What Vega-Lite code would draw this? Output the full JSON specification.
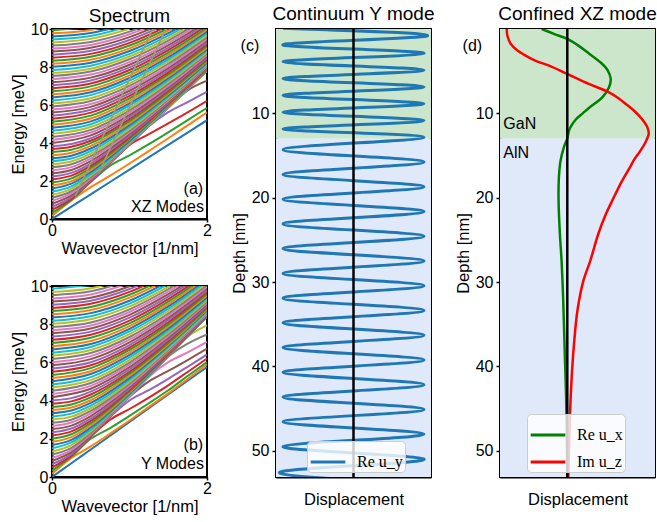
{
"$schema":"https://vega.github.io/schema/vega-lite/v6.json",
"background":"white",
"padding":{"left":9,"top":4,"right":5,"bottom":5},
"config":{
"font":"Liberation Sans",
"view":{"stroke":"black","strokeWidth":2},
"axis":{"grid":false,"domainColor":"black","domainWidth":2,"tickColor":"black","tickWidth":1.5,"labelFontSize":16,"labelColor":"black","labelFont":"Liberation Sans","titleFont":"Liberation Sans","titleFontSize":16.5,"titleFontWeight":"normal","titleColor":"black","zindex":1,"labelFlush":false,"labelOverlap":false},
"title":{"fontSize":19,"fontWeight":"normal","color":"black","offset":3.5,"font":"Liberation Sans"},
"legend":{"symbolType":"stroke","labelFont":"Liberation Serif","labelFontSize":16,"labelColor":"black","fillColor":"rgba(255,255,255,0.8)","strokeColor":"#cccccc","cornerRadius":4,"padding":2,"symbolSize":1200,"symbolStrokeWidth":3,"labelOffset":10,"rowPadding":0}
},
"datasets":{
"xz":[
{"i":0,"k":0,"e":0},{"i":0,"k":0.25,"e":0.65},{"i":0,"k":0.5,"e":1.3},{"i":0,"k":1,"e":2.6},{"i":0,"k":1.5,"e":3.9},{"i":0,"k":2,"e":5.2},
{"i":1,"k":0,"e":0.16},{"i":1,"k":0.25,"e":0.98},{"i":1,"k":0.5,"e":1.68},{"i":1,"k":0.75,"e":2.28},{"i":1,"k":1,"e":2.92},{"i":1,"k":1.25,"e":3.58},{"i":1,"k":1.5,"e":4.25},{"i":1,"k":1.75,"e":4.93},{"i":1,"k":2,"e":5.61},
{"i":2,"k":0,"e":0.32},{"i":2,"k":0.25,"e":1.0},{"i":2,"k":0.5,"e":1.95},{"i":2,"k":0.75,"e":2.81},{"i":2,"k":1,"e":3.35},{"i":2,"k":1.25,"e":3.94},{"i":2,"k":1.5,"e":4.56},{"i":2,"k":1.75,"e":5.2},{"i":2,"k":2,"e":5.85},
{"i":3,"k":0,"e":0.48},{"i":3,"k":0.25,"e":1.06},{"i":3,"k":0.5,"e":1.98},{"i":3,"k":0.75,"e":2.93},{"i":3,"k":1,"e":3.9},{"i":3,"k":1.25,"e":4.47},{"i":3,"k":1.5,"e":5.03},{"i":3,"k":1.75,"e":5.61},{"i":3,"k":2,"e":6.22},
{"i":4,"k":0,"e":0.64},{"i":4,"k":0.25,"e":1.14},{"i":4,"k":0.5,"e":2.01},{"i":4,"k":0.75,"e":2.95},{"i":4,"k":1,"e":3.91},{"i":4,"k":1.25,"e":4.88},{"i":4,"k":1.5,"e":5.62},{"i":4,"k":1.75,"e":6.15},{"i":4,"k":2,"e":6.7},
{"i":5,"k":0,"e":0.8},{"i":5,"k":0.25,"e":1.24},{"i":5,"k":0.5,"e":2.06},{"i":5,"k":0.75,"e":2.98},{"i":5,"k":1,"e":3.92},{"i":5,"k":1.25,"e":4.89},{"i":5,"k":1.5,"e":5.85},{"i":5,"k":1.75,"e":6.77},{"i":5,"k":2,"e":7.28},
{"i":6,"k":0,"e":0.96},{"i":6,"k":0.25,"e":1.35},{"i":6,"k":0.5,"e":2.12},{"i":6,"k":1,"e":3.95},{"i":6,"k":1.5,"e":5.86},{"i":6,"k":2,"e":7.8},
{"i":7,"k":0,"e":1.12},{"i":7,"k":0.25,"e":1.46},{"i":7,"k":0.5,"e":2.19},{"i":7,"k":1,"e":3.98},{"i":7,"k":1.5,"e":5.87},{"i":7,"k":2,"e":7.8},
{"i":8,"k":0,"e":1.28},{"i":8,"k":0.25,"e":1.59},{"i":8,"k":0.5,"e":2.28},{"i":8,"k":1,"e":4.02},{"i":8,"k":1.5,"e":5.89},{"i":8,"k":2,"e":7.81},
{"i":9,"k":0,"e":1.44},{"i":9,"k":0.25,"e":1.72},{"i":9,"k":0.5,"e":2.37},{"i":9,"k":1,"e":4.06},{"i":9,"k":1.5,"e":5.92},{"i":9,"k":2,"e":7.83},
{"i":10,"k":0,"e":1.6},{"i":10,"k":0.25,"e":1.86},{"i":10,"k":0.5,"e":2.47},{"i":10,"k":1,"e":4.11},{"i":10,"k":1.5,"e":5.95},{"i":10,"k":2,"e":7.84},
{"i":11,"k":0,"e":1.76},{"i":11,"k":0.25,"e":1.99},{"i":11,"k":0.5,"e":2.58},{"i":11,"k":1,"e":4.2},{"i":11,"k":1.5,"e":5.98},{"i":11,"k":2,"e":7.86},
{"i":12,"k":0,"e":1.92},{"i":12,"k":0.25,"e":2.14},{"i":12,"k":0.5,"e":2.69},{"i":12,"k":1,"e":4.24},{"i":12,"k":1.5,"e":6.02},{"i":12,"k":2,"e":7.89},
{"i":13,"k":0,"e":2.08},{"i":13,"k":0.25,"e":2.28},{"i":13,"k":0.5,"e":2.8},{"i":13,"k":1,"e":4.31},{"i":13,"k":1.5,"e":6.07},{"i":13,"k":2,"e":7.92},
{"i":14,"k":0,"e":2.24},{"i":14,"k":0.25,"e":2.43},{"i":14,"k":0.5,"e":2.92},{"i":14,"k":1,"e":4.39},{"i":14,"k":1.5,"e":6.12},{"i":14,"k":2,"e":7.95},
{"i":15,"k":0,"e":2.4},{"i":15,"k":0.25,"e":2.58},{"i":15,"k":0.5,"e":3.05},{"i":15,"k":1,"e":4.47},{"i":15,"k":1.5,"e":6.18},{"i":15,"k":2,"e":7.99},
{"i":16,"k":0,"e":2.56},{"i":16,"k":0.25,"e":2.73},{"i":16,"k":0.5,"e":3.18},{"i":16,"k":1,"e":4.56},{"i":16,"k":1.5,"e":6.23},{"i":16,"k":2,"e":8.03},
{"i":17,"k":0,"e":2.72},{"i":17,"k":0.25,"e":2.88},{"i":17,"k":0.5,"e":3.31},{"i":17,"k":1,"e":4.64},{"i":17,"k":1.5,"e":6.29},{"i":17,"k":2,"e":8.08},
{"i":18,"k":0,"e":2.88},{"i":18,"k":0.25,"e":3.03},{"i":18,"k":0.5,"e":3.44},{"i":18,"k":1,"e":4.74},{"i":18,"k":1.5,"e":6.36},{"i":18,"k":2,"e":8.13},
{"i":19,"k":0,"e":3.04},{"i":19,"k":0.25,"e":3.18},{"i":19,"k":0.5,"e":3.57},{"i":19,"k":1,"e":4.84},{"i":19,"k":1.5,"e":6.44},{"i":19,"k":2,"e":8.18},
{"i":20,"k":0,"e":3.2},{"i":20,"k":0.25,"e":3.33},{"i":20,"k":0.5,"e":3.71},{"i":20,"k":1,"e":4.94},{"i":20,"k":1.5,"e":6.51},{"i":20,"k":2,"e":8.23},
{"i":21,"k":0,"e":3.36},{"i":21,"k":0.25,"e":3.49},{"i":21,"k":0.5,"e":3.85},{"i":21,"k":1,"e":5.04},{"i":21,"k":1.5,"e":6.58},{"i":21,"k":2,"e":8.29},
{"i":22,"k":0,"e":3.52},{"i":22,"k":0.25,"e":3.64},{"i":22,"k":0.5,"e":3.99},{"i":22,"k":1,"e":5.15},{"i":22,"k":1.5,"e":6.66},{"i":22,"k":2,"e":8.35},
{"i":23,"k":0,"e":3.68},{"i":23,"k":0.25,"e":3.8},{"i":23,"k":0.5,"e":4.12},{"i":23,"k":1,"e":5.26},{"i":23,"k":1.5,"e":6.75},{"i":23,"k":2,"e":8.42},
{"i":24,"k":0,"e":3.84},{"i":24,"k":0.25,"e":3.95},{"i":24,"k":0.5,"e":4.25},{"i":24,"k":1,"e":5.37},{"i":24,"k":1.5,"e":6.84},{"i":24,"k":2,"e":8.48},
{"i":25,"k":0,"e":4.0},{"i":25,"k":0.5,"e":4.4},{"i":25,"k":1,"e":5.48},{"i":25,"k":1.5,"e":6.92},{"i":25,"k":2,"e":8.55},
{"i":26,"k":0,"e":4.16},{"i":26,"k":0.5,"e":4.55},{"i":26,"k":1,"e":5.6},{"i":26,"k":1.5,"e":7.01},{"i":26,"k":2,"e":8.63},
{"i":27,"k":0,"e":4.32},{"i":27,"k":0.5,"e":4.69},{"i":27,"k":1,"e":5.72},{"i":27,"k":1.5,"e":7.11},{"i":27,"k":2,"e":8.71},
{"i":28,"k":0,"e":4.48},{"i":28,"k":0.5,"e":4.84},{"i":28,"k":1,"e":5.84},{"i":28,"k":1.5,"e":7.21},{"i":28,"k":2,"e":8.78},
{"i":29,"k":0,"e":4.64},{"i":29,"k":0.5,"e":4.99},{"i":29,"k":1,"e":5.97},{"i":29,"k":1.5,"e":7.31},{"i":29,"k":2,"e":8.86},
{"i":30,"k":0,"e":4.8},{"i":30,"k":0.5,"e":5.14},{"i":30,"k":1,"e":6.09},{"i":30,"k":1.5,"e":7.41},{"i":30,"k":2,"e":8.94},
{"i":31,"k":0,"e":4.96},{"i":31,"k":0.5,"e":5.29},{"i":31,"k":1,"e":6.22},{"i":31,"k":1.5,"e":7.5},{"i":31,"k":2,"e":9.02},
{"i":32,"k":0,"e":5.12},{"i":32,"k":0.5,"e":5.44},{"i":32,"k":1,"e":6.35},{"i":32,"k":1.5,"e":7.61},{"i":32,"k":2,"e":9.11},
{"i":33,"k":0,"e":5.28},{"i":33,"k":0.5,"e":5.6},{"i":33,"k":1,"e":6.48},{"i":33,"k":1.5,"e":7.72},{"i":33,"k":2,"e":9.2},
{"i":34,"k":0,"e":5.44},{"i":34,"k":0.5,"e":5.75},{"i":34,"k":1,"e":6.61},{"i":34,"k":1.5,"e":7.83},{"i":34,"k":2,"e":9.29},
{"i":35,"k":0,"e":5.6},{"i":35,"k":0.5,"e":5.9},{"i":35,"k":1,"e":6.75},{"i":35,"k":1.5,"e":7.94},{"i":35,"k":2,"e":9.38},
{"i":36,"k":0,"e":5.76},{"i":36,"k":0.5,"e":6.05},{"i":36,"k":1,"e":6.88},{"i":36,"k":1.5,"e":8.05},{"i":36,"k":2,"e":9.47},
{"i":37,"k":0,"e":5.92},{"i":37,"k":0.5,"e":6.21},{"i":37,"k":1,"e":7.01},{"i":37,"k":1.5,"e":8.17},{"i":37,"k":2,"e":9.57},
{"i":38,"k":0,"e":6.08},{"i":38,"k":0.5,"e":6.36},{"i":38,"k":1,"e":7.14},{"i":38,"k":1.5,"e":8.29},{"i":38,"k":2,"e":9.67},
{"i":39,"k":0,"e":6.24},{"i":39,"k":0.5,"e":6.52},{"i":39,"k":1,"e":7.28},{"i":39,"k":1.5,"e":8.4},{"i":39,"k":2,"e":9.77},
{"i":40,"k":0,"e":6.4},{"i":40,"k":0.5,"e":6.67},{"i":40,"k":1,"e":7.42},{"i":40,"k":1.5,"e":8.52},{"i":40,"k":2,"e":9.87},
{"i":41,"k":0,"e":6.56},{"i":41,"k":0.5,"e":6.82},{"i":41,"k":1,"e":7.56},{"i":41,"k":1.5,"e":8.64},{"i":41,"k":2,"e":9.97},
{"i":42,"k":0,"e":6.72},{"i":42,"k":0.5,"e":6.98},{"i":42,"k":1,"e":7.7},{"i":42,"k":1.5,"e":8.76},{"i":42,"k":2,"e":10.07},
{"i":43,"k":0,"e":6.88},{"i":43,"k":0.5,"e":7.13},{"i":43,"k":1,"e":7.84},{"i":43,"k":1.5,"e":8.89},{"i":43,"k":2,"e":10.19},
{"i":44,"k":0,"e":7.04},{"i":44,"k":0.5,"e":7.29},{"i":44,"k":1,"e":7.98},{"i":44,"k":1.5,"e":9.01},{"i":44,"k":2,"e":10.29},
{"i":45,"k":0,"e":7.2},{"i":45,"k":0.5,"e":7.44},{"i":45,"k":1,"e":8.12},{"i":45,"k":1.5,"e":9.14},{"i":45,"k":2,"e":10.4},
{"i":46,"k":0,"e":7.36},{"i":46,"k":0.5,"e":7.6},{"i":46,"k":1,"e":8.26},{"i":46,"k":1.5,"e":9.26},{"i":46,"k":2,"e":10.51},
{"i":47,"k":0,"e":7.52},{"i":47,"k":0.5,"e":7.76},{"i":47,"k":1,"e":8.41},{"i":47,"k":1.5,"e":9.39},{"i":47,"k":2,"e":10.62},
{"i":48,"k":0,"e":7.68},{"i":48,"k":0.5,"e":7.91},{"i":48,"k":1,"e":8.55},{"i":48,"k":1.5,"e":9.52},{"i":48,"k":2,"e":10.72},
{"i":49,"k":0,"e":7.84},{"i":49,"k":0.5,"e":8.07},{"i":49,"k":1,"e":8.69},{"i":49,"k":1.5,"e":9.65},{"i":49,"k":2,"e":10.83},
{"i":50,"k":0,"e":8.01},{"i":50,"k":0.5,"e":8.22},{"i":50,"k":1,"e":8.84},{"i":50,"k":1.5,"e":9.78},{"i":50,"k":2,"e":10.94},
{"i":51,"k":0,"e":8.17},{"i":51,"k":0.5,"e":8.38},{"i":51,"k":1,"e":8.98},{"i":51,"k":1.5,"e":9.91},{"i":51,"k":2,"e":11.04},
{"i":52,"k":0,"e":8.33},{"i":52,"k":0.5,"e":8.54},{"i":52,"k":1,"e":9.13},{"i":52,"k":1.5,"e":10.04},
{"i":53,"k":0,"e":8.49},{"i":53,"k":0.5,"e":8.69},{"i":53,"k":1,"e":9.27},{"i":53,"k":1.5,"e":10.17},
{"i":54,"k":0,"e":8.65},{"i":54,"k":0.5,"e":8.85},{"i":54,"k":1,"e":9.42},{"i":54,"k":1.5,"e":10.31},
{"i":55,"k":0,"e":8.81},{"i":55,"k":0.5,"e":9.01},{"i":55,"k":1,"e":9.57},{"i":55,"k":1.5,"e":10.44},
{"i":56,"k":0,"e":8.97},{"i":56,"k":0.5,"e":9.16},{"i":56,"k":1,"e":9.72},{"i":56,"k":1.5,"e":10.57},
{"i":57,"k":0,"e":9.13},{"i":57,"k":0.5,"e":9.32},{"i":57,"k":1,"e":9.86},{"i":57,"k":1.5,"e":10.71},
{"i":58,"k":0,"e":9.29},{"i":58,"k":0.5,"e":9.48},{"i":58,"k":1,"e":10.01},
{"i":59,"k":0,"e":9.45},{"i":59,"k":0.5,"e":9.63},{"i":59,"k":1,"e":10.16},
{"i":60,"k":0,"e":9.61},{"i":60,"k":0.5,"e":9.79},{"i":60,"k":1,"e":10.3},
{"i":61,"k":0,"e":9.77},{"i":61,"k":0.5,"e":9.95},{"i":61,"k":1,"e":10.45},
{"i":62,"k":0,"e":9.93},{"i":62,"k":0.5,"e":10.1}
],
"xzl":[
{"j":1,"k":0.3,"e":1.2},{"j":1,"k":1.31,"e":10.1},
{"j":2,"k":0.6,"e":2.4},{"j":2,"k":1.48,"e":10.1}
],
"ym":[
{"i":0,"k":0,"e":0},{"i":0,"k":0.25,"e":0.72},{"i":0,"k":0.5,"e":1.44},{"i":0,"k":1,"e":2.88},{"i":0,"k":1.5,"e":4.32},{"i":0,"k":2,"e":5.76},
{"i":1,"k":0,"e":0.17},{"i":1,"k":0.25,"e":1.0},{"i":1,"k":0.5,"e":1.6},{"i":1,"k":0.75,"e":2.27},{"i":1,"k":1,"e":2.96},{"i":1,"k":1.25,"e":3.67},{"i":1,"k":1.5,"e":4.38},{"i":1,"k":1.75,"e":5.13},{"i":1,"k":2,"e":5.9},
{"i":2,"k":0,"e":0.33},{"i":2,"k":0.25,"e":1.07},{"i":2,"k":0.5,"e":2.0},{"i":2,"k":0.75,"e":2.56},{"i":2,"k":1,"e":3.2},{"i":2,"k":1.25,"e":3.86},{"i":2,"k":1.5,"e":4.54},{"i":2,"k":1.75,"e":5.29},{"i":2,"k":2,"e":6.02},
{"i":3,"k":0,"e":0.5},{"i":3,"k":0.25,"e":1.12},{"i":3,"k":0.5,"e":2.11},{"i":3,"k":0.75,"e":3.0},{"i":3,"k":1,"e":3.56},{"i":3,"k":1.25,"e":4.16},{"i":3,"k":1.5,"e":4.8},{"i":3,"k":1.75,"e":5.5},{"i":3,"k":2,"e":6.2},
{"i":4,"k":0,"e":0.67},{"i":4,"k":0.25,"e":1.2},{"i":4,"k":0.5,"e":2.14},{"i":4,"k":0.75,"e":3.15},{"i":4,"k":1,"e":4.01},{"i":4,"k":1.25,"e":4.55},{"i":4,"k":1.5,"e":5.14},{"i":4,"k":1.75,"e":5.77},{"i":4,"k":2,"e":6.41},
{"i":5,"k":0,"e":0.84},{"i":5,"k":0.25,"e":1.3},{"i":5,"k":0.5,"e":2.18},{"i":5,"k":0.75,"e":3.17},{"i":5,"k":1,"e":4.2},{"i":5,"k":1.25,"e":5.01},{"i":5,"k":1.5,"e":5.55},{"i":5,"k":1.75,"e":6.12},{"i":5,"k":2,"e":6.72},
{"i":6,"k":0,"e":1.0},{"i":6,"k":0.25,"e":1.41},{"i":6,"k":0.5,"e":2.24},{"i":6,"k":0.75,"e":3.21},{"i":6,"k":1,"e":4.21},{"i":6,"k":1.25,"e":5.25},{"i":6,"k":1.5,"e":6.01},{"i":6,"k":1.75,"e":6.52},{"i":6,"k":2,"e":7.07},
{"i":7,"k":0,"e":1.17},{"i":7,"k":0.25,"e":1.53},{"i":7,"k":0.5,"e":2.31},{"i":7,"k":0.75,"e":3.25},{"i":7,"k":1,"e":4.24},{"i":7,"k":1.25,"e":5.26},{"i":7,"k":1.5,"e":6.3},{"i":7,"k":1.75,"e":6.98},{"i":7,"k":2,"e":7.47},
{"i":8,"k":0,"e":1.34},{"i":8,"k":0.25,"e":1.67},{"i":8,"k":0.5,"e":2.4},{"i":8,"k":0.75,"e":3.32},{"i":8,"k":1,"e":4.27},{"i":8,"k":1.25,"e":5.28},{"i":8,"k":1.5,"e":6.31},{"i":8,"k":1.75,"e":7.35},{"i":8,"k":2,"e":7.94},
{"i":9,"k":0,"e":1.5},{"i":9,"k":0.25,"e":1.81},{"i":9,"k":0.5,"e":2.49},{"i":9,"k":1,"e":4.31},{"i":9,"k":1.5,"e":6.32},{"i":9,"k":2,"e":8.4},
{"i":10,"k":0,"e":1.67},{"i":10,"k":0.25,"e":1.94},{"i":10,"k":0.5,"e":2.59},{"i":10,"k":1,"e":4.36},{"i":10,"k":1.5,"e":6.34},{"i":10,"k":2,"e":8.4},
{"i":11,"k":0,"e":1.84},{"i":11,"k":0.25,"e":2.09},{"i":11,"k":0.5,"e":2.7},{"i":11,"k":1,"e":4.42},{"i":11,"k":1.5,"e":6.37},{"i":11,"k":2,"e":8.41},
{"i":12,"k":0,"e":2.0},{"i":12,"k":0.25,"e":2.24},{"i":12,"k":0.5,"e":2.82},{"i":12,"k":1,"e":4.49},{"i":12,"k":1.5,"e":6.4},{"i":12,"k":2,"e":8.43},
{"i":13,"k":0,"e":2.17},{"i":13,"k":0.25,"e":2.39},{"i":13,"k":0.5,"e":2.94},{"i":13,"k":1,"e":4.55},{"i":13,"k":1.5,"e":6.45},{"i":13,"k":2,"e":8.45},
{"i":14,"k":0,"e":2.34},{"i":14,"k":0.25,"e":2.54},{"i":14,"k":0.5,"e":3.06},{"i":14,"k":1,"e":4.63},{"i":14,"k":1.5,"e":6.49},{"i":14,"k":2,"e":8.48},
{"i":15,"k":0,"e":2.51},{"i":15,"k":0.25,"e":2.69},{"i":15,"k":0.5,"e":3.19},{"i":15,"k":1,"e":4.71},{"i":15,"k":1.5,"e":6.54},{"i":15,"k":2,"e":8.5},
{"i":16,"k":0,"e":2.67},{"i":16,"k":0.25,"e":2.85},{"i":16,"k":0.5,"e":3.33},{"i":16,"k":1,"e":4.79},{"i":16,"k":1.5,"e":6.6},{"i":16,"k":2,"e":8.54},
{"i":17,"k":0,"e":2.84},{"i":17,"k":0.25,"e":3.0},{"i":17,"k":0.5,"e":3.46},{"i":17,"k":1,"e":4.89},{"i":17,"k":1.5,"e":6.66},{"i":17,"k":2,"e":8.58},
{"i":18,"k":0,"e":3.01},{"i":18,"k":0.25,"e":3.16},{"i":18,"k":0.5,"e":3.6},{"i":18,"k":1,"e":4.98},{"i":18,"k":1.5,"e":6.72},{"i":18,"k":2,"e":8.62},
{"i":19,"k":0,"e":3.17},{"i":19,"k":0.25,"e":3.32},{"i":19,"k":0.5,"e":3.74},{"i":19,"k":1,"e":5.08},{"i":19,"k":1.5,"e":6.79},{"i":19,"k":2,"e":8.67},
{"i":20,"k":0,"e":3.34},{"i":20,"k":0.25,"e":3.48},{"i":20,"k":0.5,"e":3.88},{"i":20,"k":1,"e":5.19},{"i":20,"k":1.5,"e":6.87},{"i":20,"k":2,"e":8.72},
{"i":21,"k":0,"e":3.51},{"i":21,"k":0.25,"e":3.64},{"i":21,"k":0.5,"e":4.02},{"i":21,"k":1,"e":5.3},{"i":21,"k":1.5,"e":6.94},{"i":21,"k":2,"e":8.78},
{"i":22,"k":0,"e":3.67},{"i":22,"k":0.25,"e":3.8},{"i":22,"k":0.5,"e":4.17},{"i":22,"k":1,"e":5.41},{"i":22,"k":1.5,"e":7.02},{"i":22,"k":2,"e":8.83},
{"i":23,"k":0,"e":3.84},{"i":23,"k":0.25,"e":3.96},{"i":23,"k":0.5,"e":4.32},{"i":23,"k":1,"e":5.51},{"i":23,"k":1.5,"e":7.11},{"i":23,"k":2,"e":8.9},
{"i":24,"k":0,"e":4.01},{"i":24,"k":0.25,"e":4.13},{"i":24,"k":0.5,"e":4.47},{"i":24,"k":1,"e":5.63},{"i":24,"k":1.5,"e":7.2},{"i":24,"k":2,"e":8.96},
{"i":25,"k":0,"e":4.18},{"i":25,"k":0.5,"e":4.62},{"i":25,"k":1,"e":5.75},{"i":25,"k":1.5,"e":7.29},{"i":25,"k":2,"e":9.03},
{"i":26,"k":0,"e":4.34},{"i":26,"k":0.5,"e":4.77},{"i":26,"k":1,"e":5.87},{"i":26,"k":1.5,"e":7.38},{"i":26,"k":2,"e":9.11},
{"i":27,"k":0,"e":4.51},{"i":27,"k":0.5,"e":4.92},{"i":27,"k":1,"e":5.99},{"i":27,"k":1.5,"e":7.47},{"i":27,"k":2,"e":9.18},
{"i":28,"k":0,"e":4.68},{"i":28,"k":0.5,"e":5.07},{"i":28,"k":1,"e":6.12},{"i":28,"k":1.5,"e":7.57},{"i":28,"k":2,"e":9.26},
{"i":29,"k":0,"e":4.84},{"i":29,"k":0.5,"e":5.23},{"i":29,"k":1,"e":6.26},{"i":29,"k":1.5,"e":7.67},{"i":29,"k":2,"e":9.34},
{"i":30,"k":0,"e":5.01},{"i":30,"k":0.5,"e":5.39},{"i":30,"k":1,"e":6.39},{"i":30,"k":1.5,"e":7.78},{"i":30,"k":2,"e":9.42},
{"i":31,"k":0,"e":5.18},{"i":31,"k":0.5,"e":5.54},{"i":31,"k":1,"e":6.52},{"i":31,"k":1.5,"e":7.88},{"i":31,"k":2,"e":9.5},
{"i":32,"k":0,"e":5.34},{"i":32,"k":0.5,"e":5.7},{"i":32,"k":1,"e":6.65},{"i":32,"k":1.5,"e":7.99},{"i":32,"k":2,"e":9.58},
{"i":33,"k":0,"e":5.51},{"i":33,"k":0.5,"e":5.85},{"i":33,"k":1,"e":6.78},{"i":33,"k":1.5,"e":8.1},{"i":33,"k":2,"e":9.68},
{"i":34,"k":0,"e":5.68},{"i":34,"k":0.5,"e":6.01},{"i":34,"k":1,"e":6.91},{"i":34,"k":1.5,"e":8.22},{"i":34,"k":2,"e":9.77},
{"i":35,"k":0,"e":5.85},{"i":35,"k":0.5,"e":6.17},{"i":35,"k":1,"e":7.05},{"i":35,"k":1.5,"e":8.33},{"i":35,"k":2,"e":9.87},
{"i":36,"k":0,"e":6.01},{"i":36,"k":0.5,"e":6.33},{"i":36,"k":1,"e":7.19},{"i":36,"k":1.5,"e":8.45},{"i":36,"k":2,"e":9.96},
{"i":37,"k":0,"e":6.18},{"i":37,"k":0.5,"e":6.49},{"i":37,"k":1,"e":7.33},{"i":37,"k":1.5,"e":8.56},{"i":37,"k":2,"e":10.05},
{"i":38,"k":0,"e":6.35},{"i":38,"k":0.5,"e":6.65},{"i":38,"k":1,"e":7.48},{"i":38,"k":1.5,"e":8.69},{"i":38,"k":2,"e":10.16},
{"i":39,"k":0,"e":6.51},{"i":39,"k":0.5,"e":6.81},{"i":39,"k":1,"e":7.62},{"i":39,"k":1.5,"e":8.81},{"i":39,"k":2,"e":10.26},
{"i":40,"k":0,"e":6.68},{"i":40,"k":0.5,"e":6.96},{"i":40,"k":1,"e":7.76},{"i":40,"k":1.5,"e":8.93},{"i":40,"k":2,"e":10.37},
{"i":41,"k":0,"e":6.85},{"i":41,"k":0.5,"e":7.12},{"i":41,"k":1,"e":7.9},{"i":41,"k":1.5,"e":9.05},{"i":41,"k":2,"e":10.47},
{"i":42,"k":0,"e":7.02},{"i":42,"k":0.5,"e":7.29},{"i":42,"k":1,"e":8.04},{"i":42,"k":1.5,"e":9.18},{"i":42,"k":2,"e":10.57},
{"i":43,"k":0,"e":7.18},{"i":43,"k":0.5,"e":7.45},{"i":43,"k":1,"e":8.19},{"i":43,"k":1.5,"e":9.31},{"i":43,"k":2,"e":10.67},
{"i":44,"k":0,"e":7.35},{"i":44,"k":0.5,"e":7.61},{"i":44,"k":1,"e":8.34},{"i":44,"k":1.5,"e":9.44},{"i":44,"k":2,"e":10.78},
{"i":45,"k":0,"e":7.52},{"i":45,"k":0.5,"e":7.77},{"i":45,"k":1,"e":8.49},{"i":45,"k":1.5,"e":9.57},{"i":45,"k":2,"e":10.88},
{"i":46,"k":0,"e":7.68},{"i":46,"k":0.5,"e":7.93},{"i":46,"k":1,"e":8.64},{"i":46,"k":1.5,"e":9.7},{"i":46,"k":2,"e":10.98},
{"i":47,"k":0,"e":7.85},{"i":47,"k":0.5,"e":8.09},{"i":47,"k":1,"e":8.78},{"i":47,"k":1.5,"e":9.83},{"i":47,"k":2,"e":11.08},
{"i":48,"k":0,"e":8.02},{"i":48,"k":0.5,"e":8.26},{"i":48,"k":1,"e":8.93},{"i":48,"k":1.5,"e":9.96},{"i":48,"k":2,"e":11.18},
{"i":49,"k":0,"e":8.18},{"i":49,"k":0.5,"e":8.42},{"i":49,"k":1,"e":9.08},{"i":49,"k":1.5,"e":10.1},
{"i":50,"k":0,"e":8.35},{"i":50,"k":0.5,"e":8.58},{"i":50,"k":1,"e":9.23},{"i":50,"k":1.5,"e":10.23},
{"i":51,"k":0,"e":8.52},{"i":51,"k":0.5,"e":8.74},{"i":51,"k":1,"e":9.39},{"i":51,"k":1.5,"e":10.37},
{"i":52,"k":0,"e":8.69},{"i":52,"k":0.5,"e":8.9},{"i":52,"k":1,"e":9.54},{"i":52,"k":1.5,"e":10.5},
{"i":53,"k":0,"e":8.85},{"i":53,"k":0.5,"e":9.07},{"i":53,"k":1,"e":9.69},{"i":53,"k":1.5,"e":10.64},
{"i":54,"k":0,"e":9.02},{"i":54,"k":0.5,"e":9.23},{"i":54,"k":1,"e":9.84},{"i":54,"k":1.5,"e":10.77},
{"i":55,"k":0,"e":9.19},{"i":55,"k":0.5,"e":9.39},{"i":55,"k":1,"e":9.99},{"i":55,"k":1.5,"e":10.91},
{"i":56,"k":0,"e":9.35},{"i":56,"k":0.5,"e":9.56},{"i":56,"k":1,"e":10.15},
{"i":57,"k":0,"e":9.52},{"i":57,"k":0.5,"e":9.72},{"i":57,"k":1,"e":10.3},
{"i":58,"k":0,"e":9.69},{"i":58,"k":0.5,"e":9.88},{"i":58,"k":1,"e":10.46},
{"i":59,"k":0,"e":9.85},{"i":59,"k":0.5,"e":10.05}
],
"uy":[
{"n":0,"d":-0.1,"u":-1},{"n":1,"d":0.9,"u":1},{"n":2,"d":1.9,"u":-1},{"n":3,"d":2.89,"u":1},{"n":4,"d":3.89,"u":-1},{"n":5,"d":4.88,"u":1},{"n":6,"d":5.88,"u":-1},{"n":7,"d":6.87,"u":1},{"n":8,"d":7.87,"u":-1},{"n":9,"d":8.86,"u":1},{"n":10,"d":9.86,"u":-1},{"n":11,"d":10.85,"u":1},{"n":12,"d":11.85,"u":-1},{"n":13,"d":12.84,"u":1},
{"n":14,"d":14.31,"u":-1},{"n":15,"d":15.77,"u":1},{"n":16,"d":17.24,"u":-1},{"n":17,"d":18.7,"u":1},{"n":18,"d":20.17,"u":-1},{"n":19,"d":21.64,"u":1},{"n":20,"d":23.1,"u":-1},{"n":21,"d":24.57,"u":1},{"n":22,"d":26.03,"u":-1},{"n":23,"d":27.5,"u":1},{"n":24,"d":28.97,"u":-1},{"n":25,"d":30.43,"u":1},{"n":26,"d":31.9,"u":-1},{"n":27,"d":33.36,"u":1},{"n":28,"d":34.83,"u":-1},{"n":29,"d":36.3,"u":1},{"n":30,"d":37.76,"u":-1},{"n":31,"d":39.23,"u":1},{"n":32,"d":40.69,"u":-1},{"n":33,"d":42.16,"u":1},{"n":34,"d":43.63,"u":-1},{"n":35,"d":45.09,"u":1},{"n":36,"d":46.56,"u":-1},{"n":37,"d":48.02,"u":1},{"n":38,"d":49.49,"u":-1},{"n":39,"d":50.96,"u":1},{"n":40,"d":52.42,"u":-1},{"n":41,"d":53.89,"u":1}
],
"uxz":[
{"s":"Re u_x","d":0,"u":-0.38},{"s":"Re u_x","d":0.6,"u":-0.19},{"s":"Re u_x","d":1.18,"u":0},{"s":"Re u_x","d":2.0,"u":0.17},{"s":"Re u_x","d":2.95,"u":0.33},{"s":"Re u_x","d":4.0,"u":0.5},{"s":"Re u_x","d":4.9,"u":0.6},{"s":"Re u_x","d":5.9,"u":0.645},{"s":"Re u_x","d":6.9,"u":0.62},{"s":"Re u_x","d":8.1,"u":0.52},{"s":"Re u_x","d":9.3,"u":0.33},{"s":"Re u_x","d":10.0,"u":0.23},{"s":"Re u_x","d":10.7,"u":0.13},{"s":"Re u_x","d":11.4,"u":0.065},{"s":"Re u_x","d":12.05,"u":0.025},{"s":"Re u_x","d":12.96,"u":0},{"s":"Re u_x","d":14.0,"u":-0.05},{"s":"Re u_x","d":15.6,"u":-0.1},{"s":"Re u_x","d":17.6,"u":-0.125},{"s":"Re u_x","d":20.3,"u":-0.13},{"s":"Re u_x","d":24.3,"u":-0.11},{"s":"Re u_x","d":27.5,"u":-0.085},{"s":"Re u_x","d":31.2,"u":-0.065},{"s":"Re u_x","d":35.0,"u":-0.05},{"s":"Re u_x","d":39.1,"u":-0.035},{"s":"Re u_x","d":43.0,"u":-0.02},{"s":"Re u_x","d":47.0,"u":-0.01},{"s":"Re u_x","d":53.1,"u":0},
{"s":"Im u_z","d":0,"u":-0.9},{"s":"Im u_z","d":0.8,"u":-0.89},{"s":"Im u_z","d":1.77,"u":-0.84},{"s":"Im u_z","d":2.5,"u":-0.75},{"s":"Im u_z","d":3.15,"u":-0.62},{"s":"Im u_z","d":3.8,"u":-0.46},{"s":"Im u_z","d":4.34,"u":-0.27},{"s":"Im u_z","d":5.33,"u":0},{"s":"Im u_z","d":6.51,"u":0.32},{"s":"Im u_z","d":7.5,"u":0.62},{"s":"Im u_z","d":8.2,"u":0.76},{"s":"Im u_z","d":8.88,"u":0.87},{"s":"Im u_z","d":9.6,"u":0.98},{"s":"Im u_z","d":10.27,"u":1.065},{"s":"Im u_z","d":11.0,"u":1.14},{"s":"Im u_z","d":11.66,"u":1.19},{"s":"Im u_z","d":12.44,"u":1.21},{"s":"Im u_z","d":13.0,"u":1.185},{"s":"Im u_z","d":13.6,"u":1.15},{"s":"Im u_z","d":14.5,"u":1.08},{"s":"Im u_z","d":15.4,"u":1.0},{"s":"Im u_z","d":16.4,"u":0.93},{"s":"Im u_z","d":18.2,"u":0.8},{"s":"Im u_z","d":20.3,"u":0.67},{"s":"Im u_z","d":22.0,"u":0.57},{"s":"Im u_z","d":24.3,"u":0.46},{"s":"Im u_z","d":27.5,"u":0.34},{"s":"Im u_z","d":29.8,"u":0.24},{"s":"Im u_z","d":33.4,"u":0.15},{"s":"Im u_z","d":37.3,"u":0.1},{"s":"Im u_z","d":41.3,"u":0.065},{"s":"Im u_z","d":45.6,"u":0.04},{"s":"Im u_z","d":50.0,"u":0.025},{"s":"Im u_z","d":53.1,"u":0.015}
]
},
"hconcat":[
{"vconcat":[
{"width":155,"height":190,"title":{"text":"Spectrum","offset":-5},
"layer":[
{"data":{"name":"xz"},"mark":{"type":"line","interpolate":"monotone","strokeWidth":2,"clip":true},
"encoding":{
"x":{"field":"k","type":"quantitative","scale":{"domain":[0,2],"nice":false},"axis":{"values":[0,1,2],"tickCount":10,"format":"d","title":"Wavevector [1/nm]","tickSize":3,"labelPadding":0,"titlePadding":2,"labelOverlap":false}},
"y":{"field":"e","type":"quantitative","scale":{"domain":[0,10],"nice":false},"axis":{"values":[0,2,4,6,8,10],"tickCount":10,"format":"d","title":"Energy [meV]","tickSize":3,"labelPadding":1,"titlePadding":4,"labelOverlap":false}},
"color":{"field":"i","type":"ordinal","scale":{"range":["#1f77b4","#ff7f0e","#2ca02c","#d62728","#9467bd","#8c564b","#e377c2","#7f7f7f","#bcbd22","#17becf"]},"legend":null},
"order":{"field":"k","type":"quantitative"}}},
{"data":{"name":"xzl"},"mark":{"type":"line","strokeWidth":1.5,"clip":true,"color":"#9d9d72"},
"encoding":{"x":{"field":"k","type":"quantitative"},"y":{"field":"e","type":"quantitative"},"detail":{"field":"j","type":"nominal"}}},
{"data":{"values":[{"t":"(a)"}]},"mark":{"type":"text","align":"right","baseline":"middle","fontSize":16,"color":"black"},
"encoding":{"x":{"datum":1.95},"y":{"datum":1.58},"text":{"field":"t"}}},
{"data":{"values":[{"t":"XZ Modes"}]},"mark":{"type":"text","align":"right","baseline":"middle","fontSize":16,"color":"black"},
"encoding":{"x":{"datum":1.96},"y":{"datum":0.61},"text":{"field":"t"}}}
]},
{"width":155,"height":191,
"layer":[
{"data":{"name":"ym"},"mark":{"type":"line","interpolate":"monotone","strokeWidth":2,"clip":true},
"encoding":{
"x":{"field":"k","type":"quantitative","scale":{"domain":[0,2],"nice":false},"axis":{"values":[0,1,2],"tickCount":10,"format":"d","title":"Wavevector [1/nm]","tickSize":3,"labelPadding":0,"titlePadding":2,"labelOverlap":false}},
"y":{"field":"e","type":"quantitative","scale":{"domain":[0,10],"nice":false},"axis":{"values":[0,2,4,6,8,10],"tickCount":10,"format":"d","title":"Energy [meV]","tickSize":3,"labelPadding":1,"titlePadding":4,"labelOverlap":false}},
"color":{"field":"i","type":"ordinal","scale":{"range":["#1f77b4","#ff7f0e","#2ca02c","#d62728","#9467bd","#8c564b","#e377c2","#7f7f7f","#bcbd22","#17becf"]},"legend":null},
"order":{"field":"k","type":"quantitative"}}},
{"data":{"values":[{"t":"(b)"}]},"mark":{"type":"text","align":"right","baseline":"middle","fontSize":16,"color":"black"},
"encoding":{"x":{"datum":1.95},"y":{"datum":1.66},"text":{"field":"t"}}},
{"data":{"values":[{"t":"Y Modes"}]},"mark":{"type":"text","align":"right","baseline":"middle","fontSize":16,"color":"black"},
"encoding":{"x":{"datum":1.96},"y":{"datum":0.66},"text":{"field":"t"}}}
]}
],"spacing":67,"bounds":"flush"},
{"hconcat":[
{"width":155,"height":448,"title":"Continuum Y mode",
"layer":[
{"data":{"values":[{"m":"GaN","d0":0,"d1":13},{"m":"AlN","d0":13,"d1":53.1}]},"mark":{"type":"rect"},
"encoding":{"x":{"datum":-1.1},"x2":{"datum":1.1},"y":{"field":"d0","type":"quantitative"},"y2":{"field":"d1"},
"fill":{"field":"m","type":"nominal","scale":{"domain":["GaN","AlN"],"range":["#cce6cc","#e0e9fa"]},"legend":null}}},
{"data":{"name":"uy"},"mark":{"type":"line","interpolate":"natural","strokeWidth":3,"clip":true},
"encoding":{
"x":{"field":"u","type":"quantitative","scale":{"domain":[-1.1,1.1],"nice":false,"zero":false},"axis":{"title":"Displacement","labels":false,"ticks":false,"titlePadding":14}},
"y":{"field":"d","type":"quantitative","scale":{"domain":[0,53.1],"nice":false,"reverse":true},"axis":{"values":[10,20,30,40,50],"tickCount":10,"title":"Depth [nm]","tickSize":4,"labelPadding":3,"titlePadding":4}},
"color":{"datum":"Re u_y","type":"nominal","scale":{"domain":["Re u_y"],"range":["#1f77b4"]},"legend":{"orient":"none","legendX":31,"legendY":412,"title":null}},
"order":{"field":"n","type":"quantitative"}}},
{"data":{"values":[{"z":0}]},"mark":{"type":"rule","color":"black","strokeWidth":2.5},
"encoding":{"x":{"field":"z","type":"quantitative"}}},
{"data":{"values":[{"t":"(c)"}]},"mark":{"type":"text","align":"center","baseline":"middle","fontSize":16,"color":"black"},
"encoding":{"x":{"datum":-1.47},"y":{"datum":2.0},"text":{"field":"t"}}}
]},
{"width":155,"height":448,"title":"Confined XZ mode",
"layer":[
{"data":{"values":[{"m":"GaN","d0":0,"d1":13},{"m":"AlN","d0":13,"d1":53.1}]},"mark":{"type":"rect"},
"encoding":{"x":{"datum":-1},"x2":{"datum":1.303},"y":{"field":"d0","type":"quantitative"},"y2":{"field":"d1"},
"fill":{"field":"m","type":"nominal","scale":{"domain":["GaN","AlN"],"range":["#cce6cc","#e0e9fa"]},"legend":null}}},
{"data":{"name":"uxz"},"mark":{"type":"line","interpolate":"catmull-rom","strokeWidth":2.5,"clip":true},
"encoding":{
"x":{"field":"u","type":"quantitative","scale":{"domain":[-1,1.303],"nice":false,"zero":false},"axis":{"title":"Displacement","labels":false,"ticks":false,"titlePadding":14}},
"y":{"field":"d","type":"quantitative","scale":{"domain":[0,53.1],"nice":false,"reverse":true},"axis":{"values":[10,20,30,40,50],"tickCount":10,"title":"Depth [nm]","tickSize":4,"labelPadding":3,"titlePadding":4}},
"color":{"field":"s","type":"nominal","scale":{"domain":["Re u_x","Im u_z"],"range":["#008000","#ff0000"]},"legend":{"orient":"none","legendX":27,"legendY":385,"title":null}},
"order":{"field":"d","type":"quantitative"}}},
{"data":{"values":[{"z":0}]},"mark":{"type":"rule","color":"black","strokeWidth":2.5},
"encoding":{"x":{"field":"z","type":"quantitative"}}},
{"data":{"values":[{"t":"(d)"}]},"mark":{"type":"text","align":"center","baseline":"middle","fontSize":16,"color":"black"},
"encoding":{"x":{"datum":-1.41},"y":{"datum":2.0},"text":{"field":"t"}}},
{"data":{"values":[{"t":"GaN","d":11.25},{"t":"AlN","d":14.74}]},"mark":{"type":"text","align":"left","baseline":"middle","fontSize":16,"color":"black"},
"encoding":{"x":{"datum":-0.95},"y":{"field":"d","type":"quantitative"},"text":{"field":"t"}}}
]}
],"spacing":69,"bounds":"flush","resolve":{"scale":{"color":"independent"},"legend":{"color":"independent"}}}
],
"spacing":224,
"bounds":"flush",
"resolve":{"scale":{"color":"independent"},"legend":{"color":"independent"}}
}
